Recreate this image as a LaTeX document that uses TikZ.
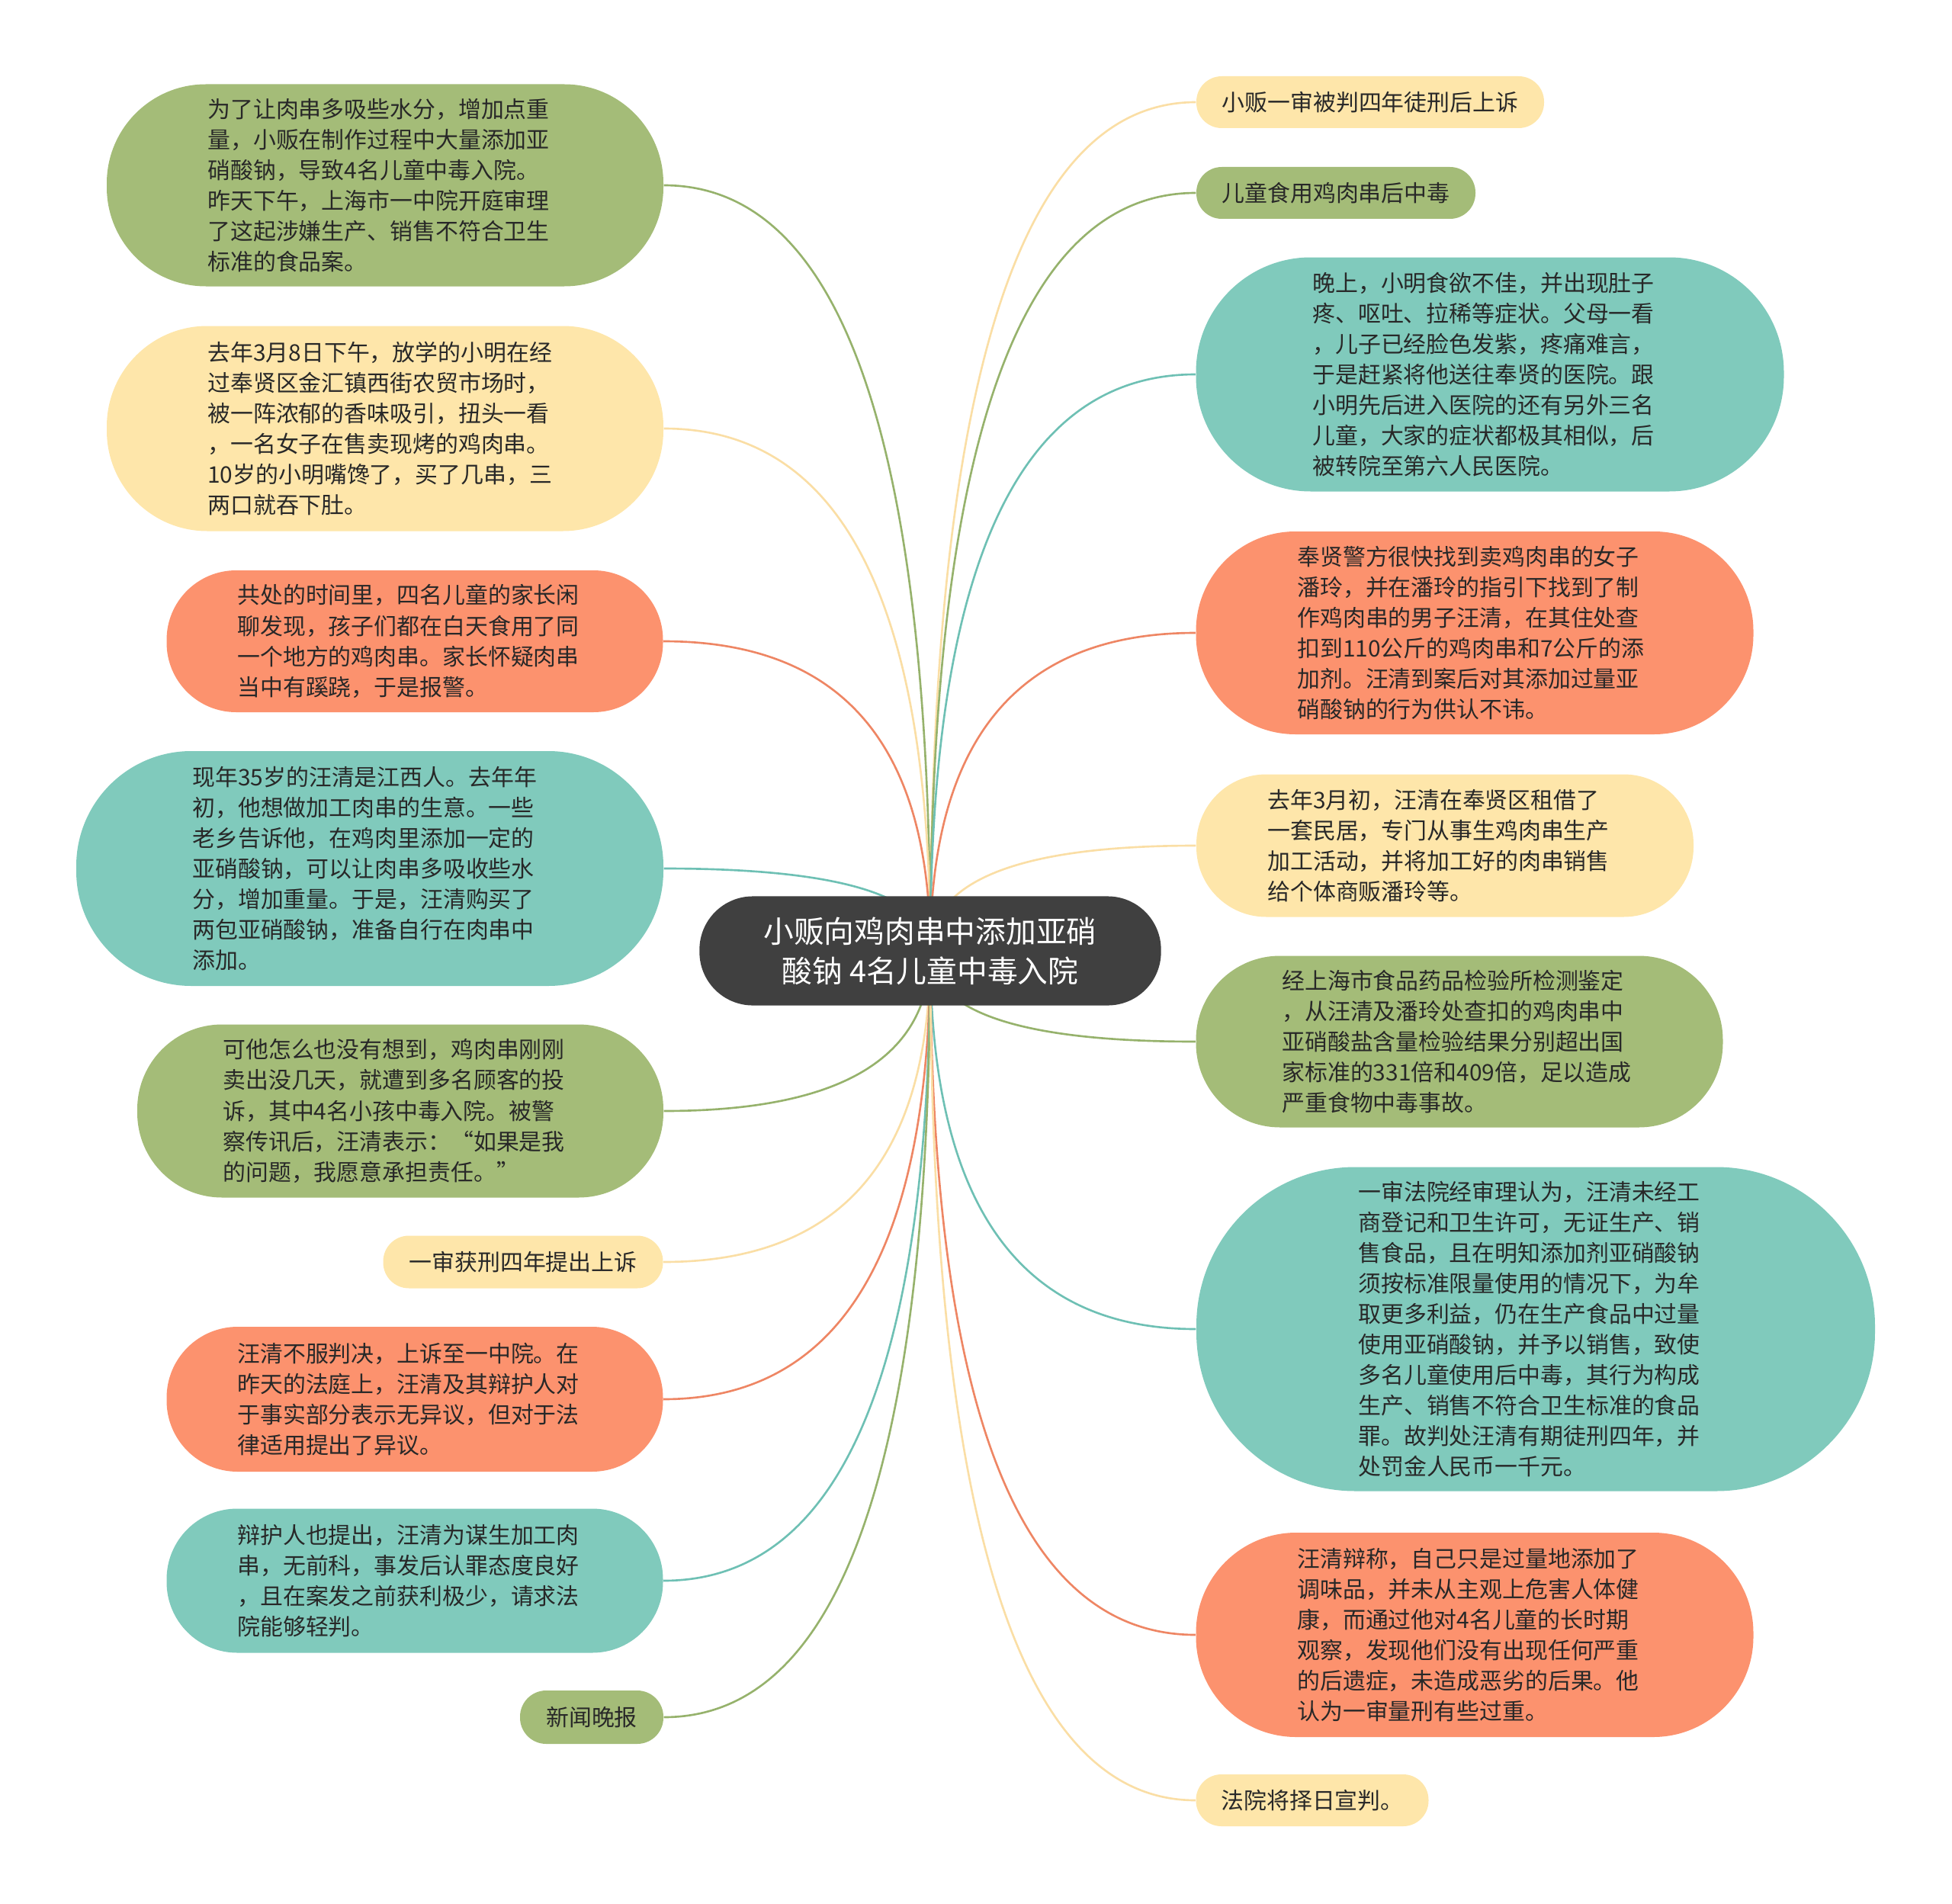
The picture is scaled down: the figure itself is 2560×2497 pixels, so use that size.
\documentclass[tikz,border=0pt]{standalone}
\usepackage{fontspec}
\setmainfont{Noto Sans CJK SC}
\usetikzlibrary{backgrounds,calc}

\definecolor{leafgreen}{RGB}{164,188,120}
\definecolor{leafyellow}{RGB}{254,230,170}
\definecolor{leaforange}{RGB}{252,146,110}
\definecolor{leafteal}{RGB}{128,202,188}
\definecolor{rootgray}{RGB}{64,64,64}
\definecolor{inkdark}{RGB}{40,40,40}
\definecolor{linegreen}{RGB}{150,178,108}
\definecolor{lineyellow}{RGB}{250,222,165}
\definecolor{lineorange}{RGB}{238,134,100}
\definecolor{lineteal}{RGB}{110,192,180}

\begin{document}
\begin{tikzpicture}[x=0.01cm, y=-0.01cm,
    pill/.style 2 args={rectangle, rounded corners=#2*0.0049cm, minimum width=#1*0.01cm, minimum height=#2*0.01cm, inner sep=0pt, align=left, text=inkdark, font=\fontsize{8.5pt}{11.4pt}\selectfont},
    para/.style={text width=4.65cm},
    rootbox/.style={rectangle, fill=rootgray, rounded corners=0.7cm, minimum width=6.05cm, minimum height=1.43cm, inner sep=0pt, text=white, align=center, font=\fontsize{11.3pt}{14.8pt}\selectfont},
    link/.style={line width=0.75pt},
    branch/.style={to path={.. controls ($(\tikztostart)!.667!(\tikztostart |- \tikztotarget)$) and ($(\tikztotarget)!.667!(\tikztostart |- \tikztotarget)$) .. (\tikztotarget)}}]
    \useasboundingbox (0,0) rectangle (2560,2497);

    \node (root) [rootbox] at (1220,1247) {小贩向鸡肉串中添加亚硝\\酸钠 4名儿童中毒入院};

    % left side
    \node (l1) [pill={730}{265}, para, fill=leafgreen] at (505,243) {为了让肉串多吸些水分，增加点重\\量，小贩在制作过程中大量添加亚\\硝酸钠，导致4名儿童中毒入院。\\昨天下午，上海市一中院开庭审理\\了这起涉嫌生产、销售不符合卫生\\标准的食品案。};
    \node (l2) [pill={730}{269}, para, fill=leafyellow] at (505,562) {去年3月8日下午，放学的小明在经\\过奉贤区金汇镇西街农贸市场时，\\被一阵浓郁的香味吸引，扭头一看\\，一名女子在售卖现烤的鸡肉串。\\10岁的小明嘴馋了，买了几串，三\\两口就吞下肚。};
    \node (l3) [pill={651}{186}, para, fill=leaforange] at (544,841) {共处的时间里，四名儿童的家长闲\\聊发现，孩子们都在白天食用了同\\一个地方的鸡肉串。家长怀疑肉串\\当中有蹊跷，于是报警。};
    \node (l4) [pill={770}{308}, para, fill=leafteal] at (485,1139) {现年35岁的汪清是江西人。去年年\\初，他想做加工肉串的生意。一些\\老乡告诉他，在鸡肉里添加一定的\\亚硝酸钠，可以让肉串多吸收些水\\分，增加重量。于是，汪清购买了\\两包亚硝酸钠，准备自行在肉串中\\添加。};
    \node (l5) [pill={690}{227}, para, fill=leafgreen] at (525,1457) {可他怎么也没有想到，鸡肉串刚刚\\卖出没几天，就遭到多名顾客的投\\诉，其中4名小孩中毒入院。被警\\察传讯后，汪清表示：“如果是我\\的问题，我愿意承担责任。”};
    \node (l6) [pill={367}{69}, fill=leafyellow] at (686,1655) {一审获刑四年提出上诉};
    \node (l7) [pill={651}{190}, para, fill=leaforange] at (544,1835) {汪清不服判决，上诉至一中院。在\\昨天的法庭上，汪清及其辩护人对\\于事实部分表示无异议，但对于法\\律适用提出了异议。};
    \node (l8) [pill={651}{189}, para, fill=leafteal] at (544,2073) {辩护人也提出，汪清为谋生加工肉\\串，无前科，事发后认罪态度良好\\，且在案发之前获利极少，请求法\\院能够轻判。};
    \node (l9) [pill={188}{70}, fill=leafgreen] at (776,2252) {新闻晚报};

    % right side
    \node (r1) [pill={456}{68}, fill=leafyellow] at (1797,134) {小贩一审被判四年徒刑后上诉};
    \node (r2) [pill={366}{68}, fill=leafgreen] at (1752,253) {儿童食用鸡肉串后中毒};
    \node (r3) [pill={771}{307}, para, fill=leafteal] at (1954,491) {晚上，小明食欲不佳，并出现肚子\\疼、呕吐、拉稀等症状。父母一看\\，儿子已经脸色发紫，疼痛难言，\\于是赶紧将他送往奉贤的医院。跟\\小明先后进入医院的还有另外三名\\儿童，大家的症状都极其相似，后\\被转院至第六人民医院。};
    \node (r4) [pill={731}{266}, para, fill=leaforange] at (1934,830) {奉贤警方很快找到卖鸡肉串的女子\\潘玲，并在潘玲的指引下找到了制\\作鸡肉串的男子汪清，在其住处查\\扣到110公斤的鸡肉串和7公斤的添\\加剂。汪清到案后对其添加过量亚\\硝酸钠的行为供认不讳。};
    \node (r5) [pill={652}{187}, para, fill=leafyellow] at (1895,1109) {去年3月初，汪清在奉贤区租借了\\一套民居，专门从事生鸡肉串生产\\加工活动，并将加工好的肉串销售\\给个体商贩潘玲等。};
    \node (r6) [pill={691}{225}, para, fill=leafgreen] at (1914,1366) {经上海市食品药品检验所检测鉴定\\，从汪清及潘玲处查扣的鸡肉串中\\亚硝酸盐含量检验结果分别超出国\\家标准的331倍和409倍，足以造成\\严重食物中毒事故。};
    \node (r7) [pill={890}{425}, para, fill=leafteal] at (2014,1743) {一审法院经审理认为，汪清未经工\\商登记和卫生许可，无证生产、销\\售食品，且在明知添加剂亚硝酸钠\\须按标准限量使用的情况下，为牟\\取更多利益，仍在生产食品中过量\\使用亚硝酸钠，并予以销售，致使\\多名儿童使用后中毒，其行为构成\\生产、销售不符合卫生标准的食品\\罪。故判处汪清有期徒刑四年，并\\处罚金人民币一千元。};
    \node (r8) [pill={731}{268}, para, fill=leaforange] at (1934,2144) {汪清辩称，自己只是过量地添加了\\调味品，并未从主观上危害人体健\\康，而通过他对4名儿童的长时期\\观察，发现他们没有出现任何严重\\的后遗症，未造成恶劣的后果。他\\认为一审量刑有些过重。};
    \node (r9) [pill={305}{68}, fill=leafyellow] at (1721,2361) {法院将择日宣判。};

    % branches, behind the boxes
    \begin{scope}[on background layer]
        \draw[link, linegreen] (root.center) to[branch] (l1.east);
        \draw[link, lineyellow] (root.center) to[branch] (l2.east);
        \draw[link, lineorange] (root.center) to[branch] (l3.east);
        \draw[link, lineteal] (root.center) to[branch] (l4.east);
        \draw[link, linegreen] (root.center) to[branch] (l5.east);
        \draw[link, lineyellow] (root.center) to[branch] (l6.east);
        \draw[link, lineorange] (root.center) to[branch] (l7.east);
        \draw[link, lineteal] (root.center) to[branch] (l8.east);
        \draw[link, linegreen] (root.center) to[branch] (l9.east);
        \draw[link, lineyellow] (root.center) to[branch] (r1.west);
        \draw[link, linegreen] (root.center) to[branch] (r2.west);
        \draw[link, lineteal] (root.center) to[branch] (r3.west);
        \draw[link, lineorange] (root.center) to[branch] (r4.west);
        \draw[link, lineyellow] (root.center) to[branch] (r5.west);
        \draw[link, linegreen] (root.center) to[branch] (r6.west);
        \draw[link, lineteal] (root.center) to[branch] (r7.west);
        \draw[link, lineorange] (root.center) to[branch] (r8.west);
        \draw[link, lineyellow] (root.center) to[branch] (r9.west);
    \end{scope}
\end{tikzpicture}
\end{document}
